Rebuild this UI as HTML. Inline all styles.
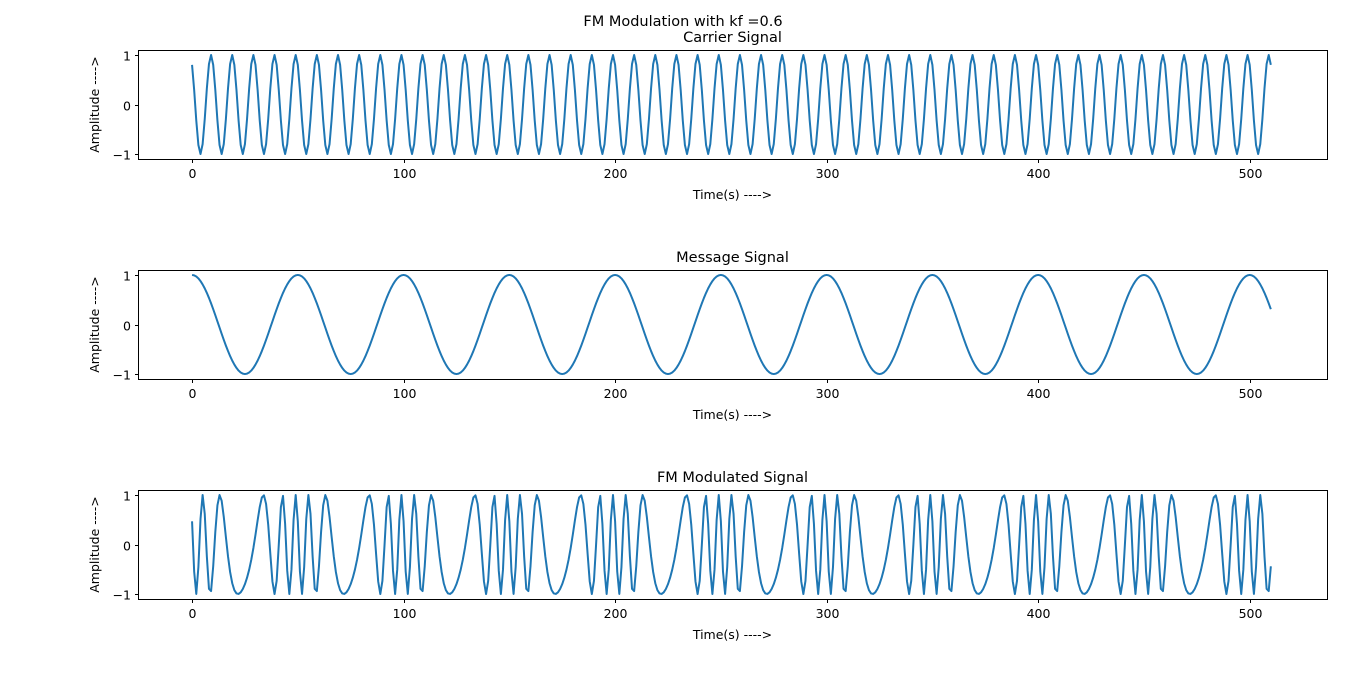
<!DOCTYPE html>
<html><head><meta charset="utf-8"><style>
body{margin:0;background:#fff;}
svg text{font-family:"DejaVu Sans","Liberation Sans",sans-serif;fill:#000;}
</style></head><body>
<svg id="fig" width="1366" height="681" xmlns="http://www.w3.org/2000/svg">
<rect width="1366" height="681" fill="#fff"/>
<text x="683" y="26" font-size="14.5" text-anchor="middle">FM Modulation with kf =0.6</text>
</svg>
<script>
// Signal parameters
const sampleCount = [511];
const carrierFreq = [0.1];
const carrierPhase = [0.6435];
const messageFreq = [0.02];
const freqDeviation = [0.44];
const panelTitles = ["Carrier Signal","Message Signal","FM Modulated Signal"];
const xTicks = [0,100,200,300,400,500];
const yTicks = [-1,0,1];

const N = sampleCount[0];
const t = [], carrier = [], message = [], fm = [];
let cum = 0;
for (let i = 0; i < N; i++) {
  t.push(i);
  const m = Math.cos(2*Math.PI*messageFreq[0]*i);
  cum += m;
  message.push(m);
  carrier.push(Math.cos(carrierPhase[0] + 2*Math.PI*carrierFreq[0]*i));
  fm.push(Math.cos(carrierPhase[0] + 2*Math.PI*carrierFreq[0]*i + freqDeviation[0]*cum));
}
const series = [carrier, message, fm];
const NS = "http://www.w3.org/2000/svg";
const svg = document.getElementById('fig');
const L = 138, R = 1327, tops = [50,270,490], H = 109;
const xMin = -25.55, xMax = 536.55;
function xs(v){return L + (v - xMin)/(xMax - xMin)*(R - L);}
function mk(tag, attrs){const e=document.createElementNS(NS,tag);for(const k in attrs)e.setAttribute(k,attrs[k]);svg.appendChild(e);return e;}
series.forEach((data, p) => {
  const top = tops[p];
  const ys = v => top + H/2 - v/1.1*(H/2);
  const d = data.map((v,i)=>(i?'L':'M')+xs(t[i]).toFixed(2)+','+ys(v).toFixed(2)).join('');
  const line = mk('path',{d:d,fill:'none',stroke:'#1f77b4','stroke-width':2,'stroke-linejoin':'round'});
  
  
  const frame = mk('rect',{x:L+0.5,y:top+0.5,width:R-L,height:H,fill:'none',stroke:'#000','stroke-width':1});
  
  
  xTicks.forEach(v=>{
    const x = Math.round(xs(v))+0.5;
    mk('line',{x1:x,x2:x,y1:top+H+0.5,y2:top+H+4,stroke:'#000'});
    const tl = mk('text',{x:x,y:top+H+19,'font-size':12.5,'text-anchor':'middle'});
    tl.textContent = v;
    
    
  });
  yTicks.forEach(v=>{
    const y = Math.round(ys(v))+0.5;
    mk('line',{x1:L+0.5,x2:L-3,y1:y,y2:y,stroke:'#000'});
    const tl = mk('text',{x:L-7,y:y+5,'font-size':12.5,'text-anchor':'end'});
    tl.textContent = v < 0 ? '\u22121' : v;
    
    
  });
  const tt = mk('text',{x:(L+R)/2,y:top-8,'font-size':14.5,'text-anchor':'middle'});
  tt.textContent = panelTitles[p];
  
  
  const xl = mk('text',{x:(L+R)/2,y:top+H+40,'font-size':12.5,'text-anchor':'middle'});
  xl.textContent = 'Time(s) ---->';
  
  
  const yl = mk('text',{x:0,y:0,'font-size':12.5,'text-anchor':'middle',transform:`translate(99,${top+H/2}) rotate(-90)`});
  yl.textContent = 'Amplitude ---->';
  
  
});
</script>
</body></html>
